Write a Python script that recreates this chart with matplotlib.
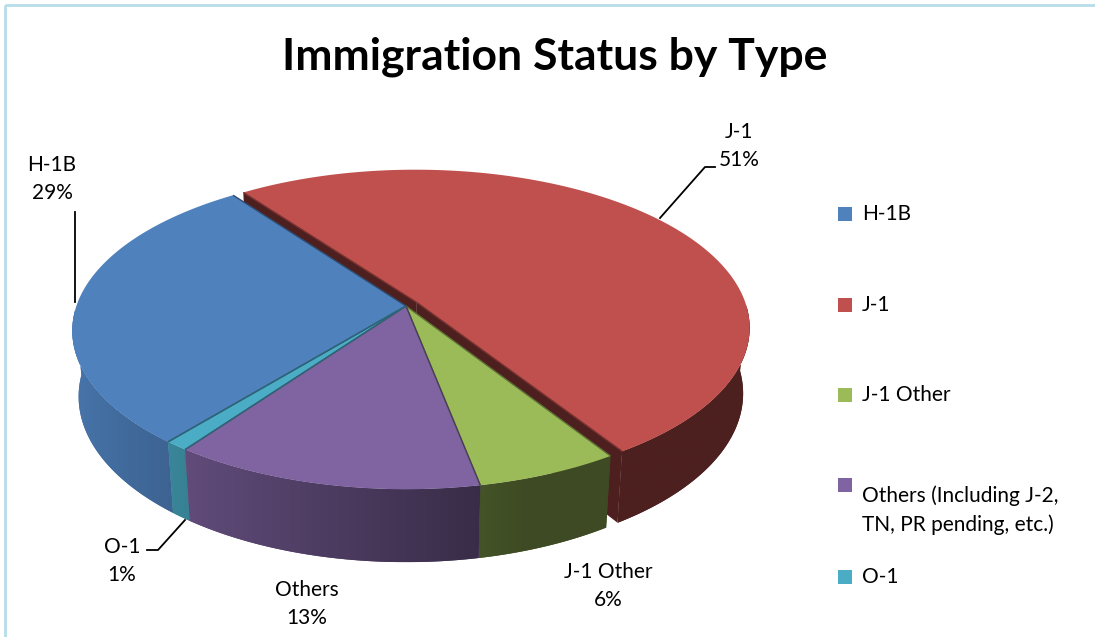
"""
Immigration status by type - 3-D pie in the old Excel look
"""
import numpy as np
import matplotlib.pyplot as plt
from matplotlib.patches import Polygon, Rectangle
from matplotlib.colors import to_rgb

names = ["H-1B", "J-1", "J-1 Other", "Others", "O-1"]
legend_names = ["H-1B", "J-1", "J-1 Other",
                "Others (Including J-2,\nTN, PR pending, etc.)", "O-1"]
shares = [29, 51, 6, 13, 1]
colors = ["#4f81bd", "#c0504d", "#9bbb59", "#8064a2", "#4bacc6"]
explode = [0, 0.04, 0, 0, 0]

# camera used for the fake 3-D projection (pixel units, y down)
CX, CY = 406, 306
FOC = 1863.0
DIST = 5.652
ELEV = np.radians(27.97)
HEIGHT = 0.228
START = 230.6   # first slice starts here and runs clockwise


def project(X, Y, Z):
    s, c = np.sin(ELEV), np.cos(ELEV)
    depth = DIST + Y * c - Z * s
    return CX + X * FOC / depth, CY - (Y * s + Z * c) * FOC / depth


def shade(col, f):
    return tuple(np.clip(np.array(to_rgb(col)) * f, 0, 1))


def wall_factor(deg):
    return np.maximum(0.4, 0.52 + 0.4 * np.cos(np.radians(deg - 180)))


plt.rcParams['font.family'] = ['Lato', 'DejaVu Sans']
fig = plt.figure(figsize=(10.95, 6.37), dpi=100)
ax = fig.add_axes([0, 0, 1, 1])
ax.axis('off')

total = float(sum(shares))
edges = START - np.concatenate([[0], np.cumsum(shares)]) / total * 360.0

walls = []
faces = []
tops = []
for i, share in enumerate(shares):
    a0, a1 = edges[i], edges[i + 1]
    mid = np.radians((a0 + a1) / 2)
    ox, oy = explode[i] * np.cos(mid), explode[i] * np.sin(mid)
    th = np.radians(np.linspace(a1, a0, max(6, int(abs(a0 - a1) * 3))))
    X = ox + np.cos(th)
    Y = oy + np.sin(th)

    # top face
    px, py = project(np.r_[ox, X], np.r_[oy, Y], 0)
    tops.append((np.column_stack([px, py]), colors[i], (ox, oy, a0, a1)))

    # outer wall (front half only)
    vis = np.sin(th) < -0.02
    if vis.sum() >= 2:
        Xv, Yv = X[vis], Y[vis]
        deg = np.degrees(th[vis]) % 360
        tx, ty = project(Xv, Yv, 0)
        bx, by = project(Xv, Yv, -HEIGHT)
        poly = np.column_stack([np.r_[tx, bx[::-1]], np.r_[ty, by[::-1]]])
        walls.append((Yv.mean(), poly, tx, wall_factor(deg), colors[i]))

    # cut faces of the pulled-out slice
    if explode[i] > 0:
        for a in (a0, a1):
            r = np.radians(a)
            xs = np.array([ox, ox + np.cos(r), ox + np.cos(r), ox])
            ys = np.array([oy, oy + np.sin(r), oy + np.sin(r), oy])
            zs = np.array([0, 0, -HEIGHT, -HEIGHT])
            qx, qy = project(xs, ys, zs)
            faces.append(np.column_stack([qx, qy]))

z = 1
for f in faces:
    ax.add_patch(Polygon(f, closed=True, fc=shade(colors[1], 0.4), ec='none', zorder=z))

# walls: horizontal gradient clipped to the wall outline
for _, poly, tx, fac, col in sorted(walls, key=lambda w: -w[0]):
    z += 1
    order = np.argsort(tx)
    x0, x1 = poly[:, 0].min(), poly[:, 0].max()
    y0, y1 = poly[:, 1].min(), poly[:, 1].max()
    gx = np.linspace(x0, x1, 400)
    gf = np.interp(gx, tx[order], fac[order])
    img = np.array(to_rgb(col))[None, None, :] * gf[None, :, None]
    patch = Polygon(poly, closed=True, fc=shade(col, gf.mean()), ec='none', zorder=z)
    ax.add_patch(patch)
    im = ax.imshow(img, extent=[x0, x1, y1, y0], aspect='auto',
                   interpolation='bilinear', zorder=z + 0.5)
    im.set_clip_path(patch)

z += 1
for poly, c, (ox, oy, a0, a1) in tops:
    ax.add_patch(Polygon(poly, closed=True, fc=c, ec='none', zorder=z))
for poly, c, (ox, oy, a0, a1) in tops:
    for a in (a0, a1):
        r = np.radians(a)
        lx, ly = project(np.array([ox, ox + np.cos(r)]),
                         np.array([oy, oy + np.sin(r)]), 0)
        ax.plot(lx, ly, color=shade(c, 0.6), lw=1.0,
                solid_capstyle='butt', zorder=z + 1)

# data labels
lab_pos = [(52, 179), (739, 146), (608, 586), (307, 604), (122, 561)]
for i, (x, y) in enumerate(lab_pos):
    ax.text(x, y, f"{names[i]}\n{shares[i]}%", ha='center', va='center',
            fontsize=15, linespacing=1.55, color='black')

lw = 1.3
ax.plot([75, 75], [212, 302], color='black', lw=lw)
ax.plot([715, 705, 660], [167, 167, 218], color='black', lw=lw)
ax.plot([147, 158, 185], [550, 550, 520], color='black', lw=lw)

ax.text(555, 57, "Immigration Status by Type", ha='center', va='center',
        fontsize=32, fontweight='bold')

# legend
leg_y = [214, 305, 395, 485, 577]
for i, y in enumerate(leg_y):
    ax.add_patch(Rectangle((838, y - 7), 14, 14, fc=colors[i], ec='none'))
    ax.text(862, y, legend_names[i], ha='left',
            va='top' if '\n' in legend_names[i] else 'center',
            fontsize=15, linespacing=1.55)

# chart frame (only the top and left edge fall inside the picture)
ax.add_patch(Rectangle((5, 5), 1200, 700, fill=False, ec='#b7dde8', lw=2))

ax.set_xlim(0, 1095)
ax.set_ylim(637, 0)
fig.savefig("out.png", dpi=100)
